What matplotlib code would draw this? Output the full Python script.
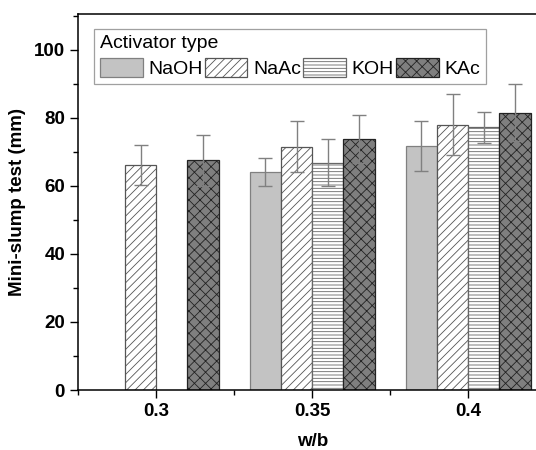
import numpy as np
import matplotlib
matplotlib.use("Agg")
import matplotlib.pyplot as plt
from matplotlib.ticker import MultipleLocator

plt.rcParams['font.family'] = ['Liberation Sans', 'DejaVu Sans']
plt.rcParams['hatch.linewidth'] = 0.6

# data
wb = [0.3, 0.35, 0.4]
types = ['NaOH', 'NaAc', 'KOH', 'KAc']
naoh = [np.nan, 64.0, 71.7]
naoh_err = [np.nan, 4.1, 7.3]
naac = [66.0, 71.5, 77.9]
naac_err = [5.9, 7.6, 9.0]
koh = [np.nan, 66.8, 77.2]
koh_err = [np.nan, 6.8, 4.5]
kac = [67.5, 73.8, 81.5]
kac_err = [7.5, 7.0, 8.3]

values = [naoh, naac, koh, kac]
errors = [naoh_err, naac_err, koh_err, kac_err]
faces = ['#c3c3c3', 'white', 'white', '#7f7f7f']
hatches = [None, '////', '-----', 'xxx']
hatch_cols = ['#808080', '#555555', '#666666', '#222222']

fig = plt.figure(figsize=(5.36, 4.5), dpi=100)
ax = fig.add_axes([0.146, 0.1333, 0.873, 0.836])

width = 0.01
x = np.array(wb)
handles = []
for i, name in enumerate(types):
    pos = x + (i - 1.5) * width
    b = ax.bar(pos, values[i], width, color=faces[i], edgecolor=hatch_cols[i],
               hatch=hatches[i], linewidth=0.9, label=name, zorder=2)
    ax.errorbar(pos, values[i], yerr=errors[i], fmt='none', ecolor='#808080',
                elinewidth=1, capsize=5, capthick=1, zorder=3)
    handles.append(b)

ax.set_xlim(0.275, 0.425)
ax.set_ylim(0, 110.5)
ax.set_xticks(wb)
ax.set_xticklabels(['0.3', '0.35', '0.4'])
ax.set_xticks([0.275, 0.325, 0.375], minor=True)
ax.set_yticks([0, 20, 40, 60, 80, 100])
ax.yaxis.set_minor_locator(MultipleLocator(10))
ax.tick_params(axis='both', which='major', direction='out', length=6, width=1,
               labelsize=13.5)
ax.tick_params(axis='both', which='minor', direction='out', length=3.5, width=1)
for lab in ax.get_xticklabels() + ax.get_yticklabels():
    lab.set_fontweight('bold')
ax.set_xlabel('w/b', fontsize=13.5, fontweight='bold', labelpad=9)
ax.set_ylabel('Mini-slump test (mm)', fontsize=13.5, fontweight='bold', labelpad=6)
ax.spines['right'].set_visible(False)
for s in ['left', 'bottom', 'top']:
    ax.spines[s].set_linewidth(1.1)

leg = ax.legend(handles=handles, labels=types, title='Activator type', ncol=4,
                loc='upper left', bbox_to_anchor=(0.0335, 0.96), borderaxespad=0,
                fontsize=14, title_fontsize=14, handlelength=2.2,
                handleheight=1.15, handletextpad=0.3, columnspacing=0.1,
                borderpad=0.3, frameon=True, fancybox=False, edgecolor='#888888',
                alignment='left', labelspacing=0.3)
leg.get_frame().set_linewidth(0.9)

fig.savefig('out.png', dpi=100)
